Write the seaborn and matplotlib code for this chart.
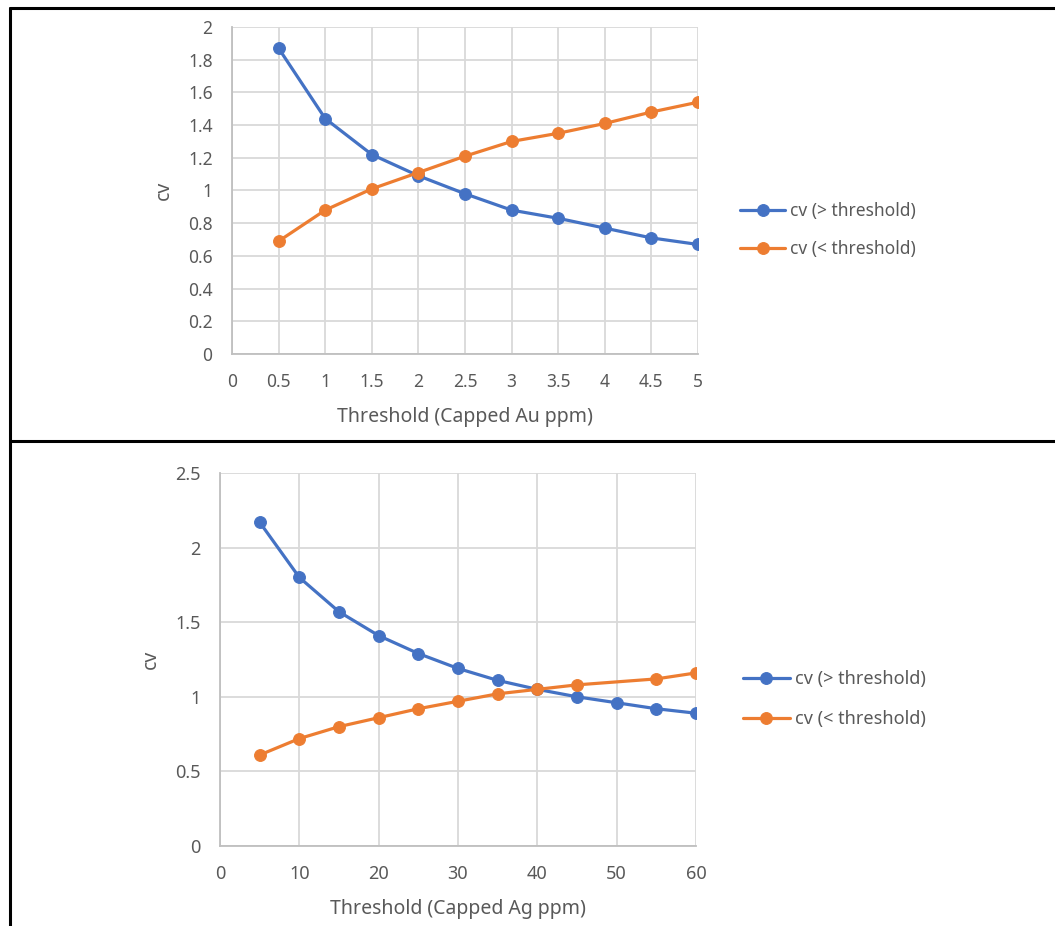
import matplotlib
matplotlib.use('Agg')
import matplotlib.pyplot as plt
import seaborn as sns
import pandas as pd
from matplotlib.lines import Line2D
from matplotlib.ticker import FormatStrFormatter, MultipleLocator

# datos
au_thr = [0.5, 1.0, 1.5, 2.0, 2.5, 3.0, 3.5, 4.0, 4.5, 5.0]
au_cv_above = [1.87, 1.44, 1.22, 1.09, 0.98, 0.88, 0.83, 0.77, 0.71, 0.67]
au_cv_below = [0.69, 0.88, 1.01, 1.11, 1.21, 1.30, 1.35, 1.41, 1.48, 1.54]

ag_thr = [5, 10, 15, 20, 25, 30, 35, 40, 45, 50, 55, 60]
ag_cv_above = [2.17, 1.80, 1.57, 1.41, 1.29, 1.19, 1.11, 1.05, 1.00, 0.96, 0.92, 0.89]
ag_thr_below = [5, 10, 15, 20, 25, 30, 35, 40, 45, 55, 60]
ag_cv_below = [0.61, 0.72, 0.80, 0.86, 0.92, 0.97, 1.02, 1.05, 1.08, 1.12, 1.16]

labels = ['cv (> threshold)', 'cv (< threshold)']
colors = ['#4472C4', '#ED7D31']

sns.set_theme(style='white')
plt.rcParams['font.family'] = ['Noto Sans', 'DejaVu Sans']

fig = plt.figure(figsize=(10.55, 9.26), dpi=100)

W, H = 1055, 926
def ax_at(l, t, r, b):
    return fig.add_axes([l / W, 1 - b / H, (r - l) / W, (b - t) / H])

ax1 = ax_at(232, 27, 698, 354)
ax2 = ax_at(220, 473, 696, 846)

panels = [
    (ax1, au_thr, au_cv_above, au_thr, au_cv_below, (0, 5), 0.5, (0, 2), 0.2,
     'Threshold (Capped Au ppm)', (740, 230), 12.5),
    (ax2, ag_thr, ag_cv_above, ag_thr_below, ag_cv_below, (0, 60), 10, (0, 2.5), 0.5,
     'Threshold (Capped Ag ppm)', (743, 699), 13),
]

for ax, x1, y1, x2, y2, xl, xs, yl, ys, xlabel, leg, fs in panels:
    sns.lineplot(x=x1, y=y1, ax=ax, color=colors[0], marker='o', markersize=8.5,
                 markeredgecolor=colors[0], linewidth=2.3, label=labels[0])
    sns.lineplot(x=x2, y=y2, ax=ax, color=colors[1], marker='o', markersize=8.5,
                 markeredgecolor=colors[1], linewidth=2.3, label=labels[1])
    ax.set_xlim(*xl)
    ax.set_ylim(*yl)
    ax.xaxis.set_major_locator(MultipleLocator(xs))
    ax.yaxis.set_major_locator(MultipleLocator(ys))
    ax.xaxis.set_major_formatter(FormatStrFormatter('%g'))
    ax.yaxis.set_major_formatter(FormatStrFormatter('%g'))
    ax.grid(True, color='#d9d9d9', linewidth=1.3)
    ax.set_axisbelow(True)
    for s in ['top', 'right']:
        ax.spines[s].set_visible(False)
    for s in ['left', 'bottom']:
        ax.spines[s].set_color('#bfbfbf')
        ax.spines[s].set_linewidth(1.3)
    ax.tick_params(axis='both', length=0, labelsize=fs, labelcolor='#595959')
    ax.tick_params(axis='x', pad=14)
    ax.tick_params(axis='y', pad=14)
    ax.set_xlabel(xlabel, fontsize=14, color='#595959', labelpad=11)
    ax.set_ylabel('cv', fontsize=14, color='#595959', labelpad=10)
    ax.legend(loc='center left', bbox_to_anchor=(leg[0] / W, 1 - leg[1] / H),
              bbox_transform=fig.transFigure, frameon=False, fontsize=fs,
              labelcolor='#595959', handlelength=2.6, handletextpad=0.3,
              labelspacing=1.2, borderpad=0, borderaxespad=0)

# bordes de la tabla
for xs_, ys_ in [([10 / W, 1], [1 - 8 / H] * 2),
                 ([10 / W, 1], [1 - 441 / H] * 2),
                 ([10 / W] * 2, [1 - 8 / H, 0])]:
    fig.add_artist(Line2D(xs_, ys_, color='black', linewidth=2.2))

plt.savefig('out.png', dpi=100)
